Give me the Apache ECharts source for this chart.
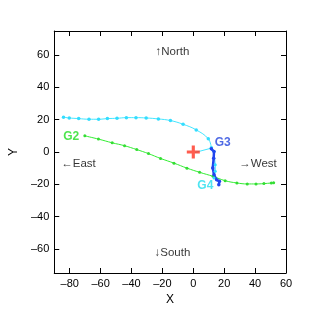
<!DOCTYPE html>
<html><head><meta charset="utf-8">
<script src="https://cdn.jsdelivr.net/npm/echarts@6/dist/echarts.min.js"></script>
<style>html,body{margin:0;padding:0;background:#fff}#c{width:316px;height:317px}</style>
</head><body><div id="c"></div>
<script>
// Cyan track (approach to G3)
const cyanX = [-84, -80.3, -74.2, -67.5, -61.3, -55.6, -49.4, -43.3, -37.1, -30.5, -22.6, -14.8, -6.6, 1.9, 9.7, 11.7];
const cyanY = [21.6, 21.1, 20.7, 20.3, 20.3, 20.7, 20.9, 21.3, 21.3, 21.1, 20.5, 19.5, 17.2, 13.7, 8.2, 2.6];
// Cyan link from origin to G3
const linkX = [1.1, 11.7];
const linkY = [-0.3, 2.4];
// Cyan drop from G3 to G4
const dropX = [11.7, 13.4, 14.2, 14.2, 13.4];
const dropY = [2.4, 0.3, -7.9, -12.0, -16.1];
// Blue track G3 -> G4
const blueX = [11.7, 13.4, 13.2, 12.6, 13.4, 15.1, 16.9, 16.5];
const blueY = [2.0, 0.3, -3.8, -9.9, -14.1, -17.2, -18.2, -20.3];
// Green track G2
const greenX = [-70.2, -61.4, -52.5, -44.5, -36.6, -29.0, -21.2, -12.5, -4.1, 4.1, 12.8, 20.6, 28.2, 34.9, 40.6, 45.7, 50.5, 52.0];
const greenY = [10.0, 8.0, 5.7, 3.9, 1.5, -1.0, -4.0, -6.9, -10.0, -12.6, -15.1, -17.8, -19.2, -19.8, -19.8, -19.6, -19.2, -19.0];
// Ticks
const xTicks = [-80, -60, -40, -20, 0, 20, 40, 60];
const yTicks = [-60, -40, -20, 0, 20, 40, 60];
// Annotations
const dirText = ['\u2191North', '\u2193South', '\u2190East', '\u2192West'];
const dirX = [-13.5, -13.5, -74.3, 41.9];
const dirY = [62, -62.3, -7.3, -7.3];
const gText = ['G2', 'G3', 'G4'];
const gX = [-79, 19, 7.8];
const gY = [9.4, 5.7, -21];
const gColor = ['#22dd22', '#2244dd', '#22ddee'];
const crossX = [0], crossY = [0];

const zip = (a, b) => a.map((v, i) => [v, b[i]]);
const FONT = 'Liberation Sans, Arial, sans-serif';
const chart = echarts.init(document.getElementById('c'));
const line = { show: true, onZero: false, lineStyle: { color: '#000', width: 1 } };
const tick = (vals) => ({ show: true, inside: true, length: 5, customValues: vals, lineStyle: { color: '#000' } });
const lbl = (vals) => ({ color: '#000', fontSize: 11, fontFamily: FONT, margin: 5, customValues: vals,
  formatter: v => String(v).replace('-', '\u2013') });
const nameStyle = { color: '#000', fontSize: 12, fontFamily: FONT };
chart.setOption({
  animation: false,
  backgroundColor: '#fff',
  grid: { left: 44, top: 31, right: 30, bottom: 44, containLabel: false },
  xAxis: [
    { type: 'value', min: -90, max: 60, position: 'bottom', name: 'X', nameLocation: 'middle', nameGap: 21,
      nameTextStyle: nameStyle, axisLine: line, axisTick: tick(xTicks), axisLabel: lbl(xTicks), splitLine: { show: false } },
    { type: 'value', min: -90, max: 60, position: 'top', axisLine: line, axisTick: tick(xTicks),
      axisLabel: { show: false }, splitLine: { show: false } }
  ],
  yAxis: [
    { type: 'value', min: -75, max: 75, position: 'left', name: 'Y', nameLocation: 'middle', nameGap: 30, nameRotate: 90,
      nameTextStyle: nameStyle, axisLine: line, axisTick: tick(yTicks), axisLabel: lbl(yTicks), splitLine: { show: false } },
    { type: 'value', min: -75, max: 75, position: 'right', axisLine: line, axisTick: tick(yTicks),
      axisLabel: { show: false }, splitLine: { show: false } }
  ],
  series: [
    { type: 'line', data: zip(greenX, greenY), smooth: 0.4, symbol: 'circle', symbolSize: 3,
      lineStyle: { color: '#33ee33', width: 1 }, itemStyle: { color: '#33dd33' } },
    { type: 'line', data: zip(cyanX, cyanY), smooth: 0.4, symbol: 'circle', symbolSize: 3.5,
      lineStyle: { color: '#44e6ff', width: 1 }, itemStyle: { color: '#33ddff' } },
    { type: 'line', data: zip(linkX, linkY), symbol: 'none', lineStyle: { color: '#44e6ff', width: 1 } },
    { type: 'line', data: zip(dropX, dropY), symbol: 'circle', symbolSize: 3,
      lineStyle: { color: '#44e6ff', width: 1 }, itemStyle: { color: '#33ddff' } },
    { type: 'line', data: zip(blueX, blueY), symbol: 'circle', symbolSize: 3.5,
      lineStyle: { color: '#2244ee', width: 2.5 }, itemStyle: { color: '#2244ee' } },
    { type: 'scatter', data: zip(crossX, crossY), symbol: 'path://M3.8,0H6.2V3.8H10V6.2H6.2V10H3.8V6.2H0V3.8H3.8Z',
      symbolSize: 13, itemStyle: { color: '#ff3322' }, z: 5 },
    { type: 'scatter', silent: true, symbolSize: 1, itemStyle: { color: 'rgba(0,0,0,0)' },
      data: dirText.map((t, i) => ({ value: [dirX[i], dirY[i]], name: t })),
      label: { show: true, position: 'inside', formatter: p => p.name, color: '#000', fontSize: 11.5, fontFamily: FONT } },
    { type: 'scatter', silent: true, symbolSize: 1, itemStyle: { color: 'rgba(0,0,0,0)' },
      data: gText.map((t, i) => ({ value: [gX[i], gY[i]], name: t, label: { color: gColor[i] } })),
      label: { show: true, position: 'inside', formatter: p => p.name, fontSize: 12, fontWeight: 'bold', fontFamily: FONT } }
  ]
});
</script></body></html>
